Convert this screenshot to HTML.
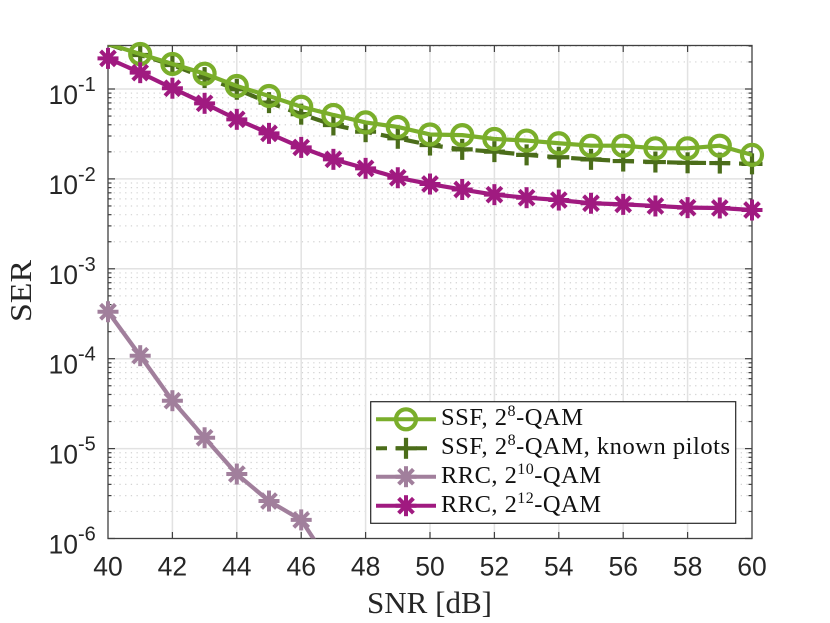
<!DOCTYPE html>
<html lang="en">
<head>
<meta charset="utf-8">
<title>SER vs SNR</title>
<style>
html,body{margin:0;padding:0;background:#fff;width:830px;height:623px;overflow:hidden}
svg{display:block;position:absolute;left:0;top:0}
.tick{font-family:"Liberation Sans",sans-serif;font-size:26.5px;fill:#262626}
.exp{font-family:"Liberation Sans",sans-serif;font-size:20px;fill:#262626}
.lab{font-family:"Liberation Serif",serif;font-size:31px;fill:#262626}
.leg{font-family:"Liberation Serif",serif;font-size:24.5px;fill:#111}
.sup{font-size:16px}
</style>
</head>
<body>
<svg id="chart" xmlns="http://www.w3.org/2000/svg" width="830" height="623" viewBox="0 0 830 623">
<defs><clipPath id="plot-clip"><rect x="108" y="45.5" width="644" height="493"/></clipPath></defs>
<rect x="108" y="45.5" width="644" height="493" fill="#fff"/>
<g id="grid"></g>
<g id="axes"></g>
<g id="series"></g>
<g id="labels"></g>
<text class="lab" x="367" y="613" textLength="125" lengthAdjust="spacingAndGlyphs">SNR [dB]</text>
<text class="lab" transform="translate(31 322) rotate(-90)" textLength="62" lengthAdjust="spacingAndGlyphs">SER</text>
<g id="legend">
<rect x="370.7" y="401.7" width="365" height="121.6" fill="#fff" stroke="#262626" stroke-width="1.2"/>
<text class="leg" x="441" y="425" textLength="142" lengthAdjust="spacing">SSF, 2<tspan class="sup" dy="-9">8</tspan><tspan dy="9">-QAM</tspan></text>
<text class="leg" x="441" y="454" textLength="289" lengthAdjust="spacing">SSF, 2<tspan class="sup" dy="-9">8</tspan><tspan dy="9">-QAM, known pilots</tspan></text>
<text class="leg" x="441" y="483" textLength="160" lengthAdjust="spacing">RRC, 2<tspan class="sup" dy="-9">10</tspan><tspan dy="9">-QAM</tspan></text>
<text class="leg" x="441" y="512" textLength="160" lengthAdjust="spacing">RRC, 2<tspan class="sup" dy="-9">12</tspan><tspan dy="9">-QAM</tspan></text>
</g>
</svg>
<script>
const snrValues = [40,41,42,43,44,45,46,47,48,49,50,51,52,53,54,55,56,57,58,59,60];
const ssfSer = [0.318,0.245,0.19,0.148,0.108,0.0836,0.0635,0.0514,0.0425,0.0378,0.0312,0.0307,0.0278,0.0267,0.0249,0.0234,0.0234,0.0219,0.0219,0.0234,0.0185];
const ssfPilotSer = [0.315,0.239,0.185,0.134,0.0993,0.0705,0.0525,0.0398,0.0335,0.0283,0.0238,0.0213,0.0201,0.0185,0.0174,0.0165,0.0158,0.0154,0.0151,0.0150,0.0147];
const rrc10Ser = [3.33e-4,1.08e-4,3.41e-5,1.32e-5,5.21e-6,2.61e-6,1.61e-6,4.58e-7];
const rrc12Ser = [0.219,0.152,0.102,0.0693,0.0460,0.0321,0.0224,0.0165,0.0131,0.0103,0.00877,0.00762,0.00668,0.00618,0.00582,0.00536,0.00521,0.00500,0.00479,0.00475,0.00451];
const xTickLabels = [40,42,44,46,48,50,52,54,56,58,60];
const yTickExponents = [-1,-2,-3,-4,-5,-6];

const NS = 'http://www.w3.org/2000/svg';
const L = 108, R = 752, T = 45.5, B = 538.5, DEC = 89.9;
const xScale = v => L + (v - 40) * (R - L) / 20;
const yScale = v => B - (Math.log10(v) + 6) * DEC;
const gridG = document.getElementById('grid');
const axesG = document.getElementById('axes');
const seriesG = document.getElementById('series');
const labelsG = document.getElementById('labels');
const legendG = document.getElementById('legend');

function mk(tag, attrs, parent) {
  const el = document.createElementNS(NS, tag);
  for (const k in attrs) el.setAttribute(k, attrs[k]);
  parent.appendChild(el);
  return el;
}
function seg(parent, x1, y1, x2, y2, color, w, extra) {
  const el = mk('line', Object.assign({x1, y1, x2, y2, stroke: color, 'stroke-width': w}, extra || {}), parent);
  
  
  return el;
}

// minor and major grid
for (let e = -6; e <= -1; e++) {
  for (let m = 1; m <= 9; m++) {
    const v = m * Math.pow(10, e);
    const y = yScale(v);
    if (y < T - 0.5 || y > B + 0.5) continue;
    if (m === 1) {
      if (e !== -6) seg(gridG, L, y, R, y, '#e2e2e2', 1.5);
      seg(axesG, L, y, L + 7, y, '#404040', 1.2);
      seg(axesG, R, y, R - 7, y, '#404040', 1.2);
    } else {
      seg(gridG, L, y, R, y, '#d4d4d4', 1.2, {'stroke-dasharray': '1.3 4.4'});
      seg(axesG, L, y, L + 3.5, y, '#404040', 1.2);
      seg(axesG, R, y, R - 3.5, y, '#404040', 1.2);
    }
  }
}
xTickLabels.forEach(t => {
  const x = xScale(t);
  if (t !== 40 && t !== 60) {
    seg(gridG, x, T, x, B, '#e2e2e2', 1.5);
    seg(axesG, x, T, x, T + 6.5, '#404040', 1.2);
    seg(axesG, x, B, x, B - 6.5, '#404040', 1.2);
  }
  const lab = mk('text', {class: 'tick', x: x, y: 575.7, 'text-anchor': 'middle'}, labelsG);
  
  
  lab.textContent = t;
});
yTickExponents.forEach(e => {
  const y = yScale(Math.pow(10, e));
  const base = mk('text', {class: 'tick', x: 48.5, y: y + 15}, labelsG);
  
  
  base.textContent = '10';
  const sup = mk('text', {class: 'exp', x: 78, y: y + 2}, labelsG);
  
  
  sup.textContent = String(e);
});
const box = mk('rect', {x: L, y: T, width: R - L, height: B - T, fill: 'none', stroke: '#404040', 'stroke-width': 1.3}, axesG);



function marker(parent, kind, x, y, color) {
  const g = mk('g', {stroke: color, 'stroke-width': 4.2, fill: 'none'}, parent);
  
  
  if (kind === 'circle') {
    mk('circle', {cx: x, cy: y, r: 10}, g);
  } else if (kind === 'plus') {
    mk('line', {x1: x - 10.5, y1: y, x2: x + 10.5, y2: y}, g);
    mk('line', {x1: x, y1: y - 10.5, x2: x, y2: y + 10.5}, g);
  } else {
    const r = 10.5;
    [0, 45, 90, 135].forEach(a => {
      const c = Math.cos(a * Math.PI / 180) * r, s = Math.sin(a * Math.PI / 180) * r;
      mk('line', {x1: x - c, y1: y - s, x2: x + c, y2: y + s, 'stroke-width': 4}, g);
    });
  }
}

const GREEN = '#7aae2b', DARK = '#4b6d1a', MAUVE = '#a17f9c', MAGENTA = '#a01a80';
const drawOrder = [
  {name: 'ssf-known-pilots', vals: ssfPilotSer, color: DARK, kind: 'plus', dash: '15 9'},
  {name: 'ssf', vals: ssfSer, color: GREEN, kind: 'circle'},
  {name: 'rrc-1024', vals: rrc10Ser, color: MAUVE, kind: 'star'},
  {name: 'rrc-4096', vals: rrc12Ser, color: MAGENTA, kind: 'star'}
];
drawOrder.forEach(s => {
  const g = mk('g', {}, seriesG);
  
  
  const pts = s.vals.map((v, i) => xScale(snrValues[i]).toFixed(2) + ',' + yScale(v).toFixed(2)).join(' ');
  const attrs = {points: pts, fill: 'none', stroke: s.color, 'stroke-width': 4.2, 'stroke-linejoin': 'round', 'clip-path': 'url(#plot-clip)'};
  if (s.dash) attrs['stroke-dasharray'] = s.dash;
  const line = mk('polyline', attrs, g);
  
  
  s.vals.forEach((v, i) => {
    const y = yScale(v);
    if (y < T || y > B) return;
    marker(g, s.kind, xScale(snrValues[i]), y, s.color);
  });
});

// legend keys
const legendRows = [
  {name: 'ssf', y: 419.3, color: GREEN, kind: 'circle'},
  {name: 'ssf-known-pilots', y: 448.3, color: DARK, kind: 'plus', dash: '11 9'},
  {name: 'rrc-1024', y: 476.7, color: MAUVE, kind: 'star'},
  {name: 'rrc-4096', y: 505.7, color: MAGENTA, kind: 'star'}
];
legendRows.forEach(r => {
  const g = mk('g', {}, legendG);
  
  
  const attrs = {x1: 376, y1: r.y, x2: 436, y2: r.y, stroke: r.color, 'stroke-width': 4};
  if (r.dash) attrs['stroke-dasharray'] = r.dash;
  mk('line', attrs, g);
  marker(g, r.kind, 406, r.y, r.color);
});
</script>
</body>
</html>
